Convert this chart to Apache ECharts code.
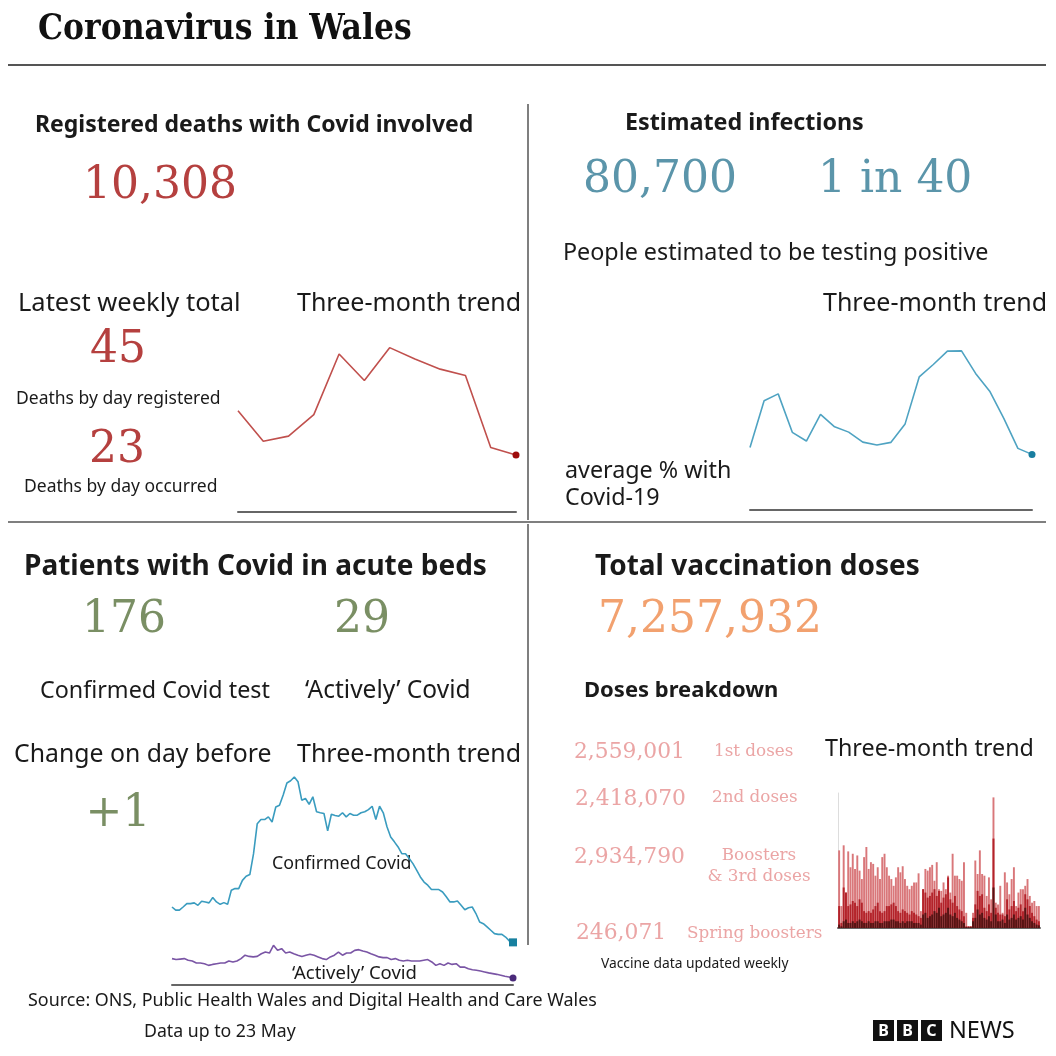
<!DOCTYPE html>
<html>
<head>
<meta charset="utf-8">
<script src="https://cdn.jsdelivr.net/npm/echarts@6/dist/echarts.min.js"></script>
<style>html,body{margin:0;padding:0;background:#fff}#c{width:1056px;height:1056px}</style>
</head>
<body>
<div id="c"></div>
<script>
// ---- headline figures ----
const totalDeaths = '10,308';
const weeklyRegistered = '45';
const weeklyOccurred = '23';
const infectionsEstimate = '80,700';
const infectionsRatio = '1 in 40';
const patientsConfirmed = '176';
const patientsActive = '29';
const patientsChange = '+1';
const totalDoses = '7,257,932';
const doseLabels = ['1st doses', '2nd doses', 'Boosters\n& 3rd doses', 'Spring boosters'];
const doseValues = ['2,559,001', '2,418,070', '2,934,790', '246,071'];

// ---- trend series ----
const deathsTrend = [80, 56, 60, 77, 125, 104, 130, 121, 113, 108, 51, 45];
const infectionsTrend = [2.81, 4.91, 5.22, 3.49, 3.10, 4.30, 3.74, 3.50, 3.05, 2.92, 3.04, 3.87, 5.98, 6.54, 7.14, 7.15, 6.14, 5.34, 4.12, 2.77, 2.50];
const confirmedTrend = [322,309,309,322,336,336,339,329,346,343,339,361,343,333,340,333,391,398,398,432,449,456,542,666,683,683,694,673,735,742,784,834,843,859,839,763,770,746,777,715,711,708,636,705,700,697,711,694,708,701,701,711,715,724,738,683,738,711,653,611,591,570,542,542,522,501,474,446,425,412,394,394,394,384,364,343,343,347,329,311,319,322,295,260,253,240,226,212,209,209,198,182,176];
const activeTrend = [109,105,107,109,102,99,91,91,88,81,85,88,91,91,99,95,99,109,123,118,116,118,129,136,132,164,143,150,132,136,129,123,118,123,127,123,116,109,105,116,123,136,123,132,132,143,146,140,136,129,123,116,113,113,105,109,102,99,102,99,99,99,102,105,95,81,88,81,91,85,88,74,74,67,63,61,58,54,50,47,44,40,36,33,29];
// daily vaccine doses (relative units)
const dosesAll = [230,65,245,105,227,180,220,175,215,170,145,210,240,175,195,190,155,180,145,210,220,180,155,145,125,150,180,165,183,145,125,115,125,135,135,162,50,115,175,170,180,187,140,195,115,110,135,115,155,105,220,155,155,145,140,195,45,5,5,45,200,160,230,160,155,95,150,85,387,75,70,125,45,165,135,100,145,180,65,105,115,115,125,145,95,75,80,65,65];
const dosesMid = [65,15,120,105,65,70,80,75,65,85,75,50,45,50,45,55,65,75,50,45,50,65,65,70,75,65,50,45,55,50,45,40,50,45,40,35,30,115,105,90,95,105,115,95,110,75,90,100,150,85,75,95,65,55,50,35,5,5,5,30,70,110,95,100,60,50,70,45,265,60,45,40,40,35,85,55,65,80,50,60,70,50,100,85,65,45,35,25,20];
const dosesDark = [10,5,20,25,15,15,20,15,20,25,20,15,15,20,15,15,20,20,15,15,20,20,20,25,25,20,20,15,20,15,20,20,20,15,15,15,10,40,45,30,35,40,50,45,60,35,40,45,60,40,35,45,30,25,20,15,3,3,3,20,30,55,40,45,30,25,35,20,120,40,20,20,25,15,40,25,30,40,25,30,35,25,60,40,30,20,15,10,8];

const SANS = '"Noto Sans", "Open Sans", sans-serif';
const SERIF = '"DejaVu Serif", serif';
const INK = '#1a1a1a';
const RED = '#b5403f', TEAL = '#5b95aa', GREEN = '#7a8f64', ORANGE = '#f2a16f', PINK = '#eba5a5';

function T(x, y, text, size, opt) {
  opt = opt || {};
  return {
    type: 'text', x: x, y: y, silent: true,
    style: {
      text: text, fill: opt.color || INK,
      fontSize: size, fontFamily: opt.family || SANS, fontWeight: opt.weight || 'normal',
      align: opt.align || 'left', verticalAlign: 'middle',
      textAlign: opt.align || 'left', textVerticalAlign: 'middle',
      lineHeight: opt.lineHeight || size * 1.2
    }
  };
}
function L(x1, y1, x2, y2, color, w) {
  return { type: 'line', silent: true, shape: { x1: x1, y1: y1, x2: x2, y2: y2 }, style: { stroke: color, lineWidth: w } };
}

const graphics = [
  T(38, 30, 'Coronavirus in Wales', 35, { family: '"DejaVu Serif Condensed", "DejaVu Serif", serif', weight: 'bold', color: '#111' }),
  L(8, 65, 1046, 65, '#555', 2),
  L(8, 522, 1046, 522, '#555', 1.5),
  L(528, 104, 528, 520, '#555', 1.5),
  L(528, 524, 528, 945, '#555', 1.5),
  // top-left
  T(35, 125, 'Registered deaths with Covid involved', 23, { weight: 'bold' }),
  T(83, 187, totalDeaths, 44, { family: SERIF, color: RED }),
  T(18, 304, 'Latest weekly total', 25.5),
  T(297, 304, 'Three-month trend', 25),
  T(90, 351, weeklyRegistered, 44, { family: SERIF, color: RED }),
  T(16, 399, 'Deaths by day registered', 17.5),
  T(89, 451, weeklyOccurred, 44, { family: SERIF, color: RED }),
  T(24, 487, 'Deaths by day occurred', 17.5),
  // top-right
  T(625, 123, 'Estimated infections', 23.3, { weight: 'bold' }),
  T(583, 181, infectionsEstimate, 44, { family: SERIF, color: TEAL }),
  T(818, 181, infectionsRatio, 44, { family: SERIF, color: TEAL }),
  T(563, 253, 'People estimated to be testing positive', 23.3),
  T(823, 304, 'Three-month trend', 25),
  T(565, 471, 'average % with', 23.3),
  T(565, 498, 'Covid-19', 23.3),
  // bottom-left
  T(24, 567, 'Patients with Covid in acute beds', 28, { weight: 'bold' }),
  T(82, 621, patientsConfirmed, 44, { family: SERIF, color: GREEN }),
  T(334, 621, patientsActive, 44, { family: SERIF, color: GREEN }),
  T(40, 691, 'Confirmed Covid test', 23.3),
  T(305, 691, '\u2018Actively\u2019 Covid', 24.5),
  T(14, 755, 'Change on day before', 24.8),
  T(297, 755, 'Three-month trend', 25),
  T(118, 815, patientsChange, 44, { family: SERIF, color: GREEN, align: 'center' }),
  T(272, 864, 'Confirmed Covid', 17.8),
  T(292, 974, '\u2018Actively\u2019 Covid', 18.5),
  // bottom-right
  T(595, 567, 'Total vaccination doses', 28, { weight: 'bold' }),
  T(598, 621, totalDoses, 44, { family: SERIF, color: ORANGE }),
  T(584, 691, 'Doses breakdown', 22, { weight: 'bold' }),
  T(825, 749, 'Three-month trend', 23.3),
  T(574, 752, doseValues[0], 21.8, { family: SERIF, color: PINK }),
  T(714, 752, doseLabels[0], 16.8, { family: SERIF, color: PINK }),
  T(575, 799, doseValues[1], 21.8, { family: SERIF, color: PINK }),
  T(712, 798, doseLabels[1], 16.8, { family: SERIF, color: PINK }),
  T(574, 857, doseValues[2], 21.8, { family: SERIF, color: PINK }),
  T(759, 866, doseLabels[2], 16.8, { family: SERIF, color: PINK, align: 'center', lineHeight: 21 }),
  T(576, 933, doseValues[3], 21.8, { family: SERIF, color: PINK }),
  T(687, 934, doseLabels[3], 16.8, { family: SERIF, color: PINK }),
  T(601, 964, 'Vaccine data updated weekly', 13.8),
  // footer
  T(28, 1001, 'Source: ONS, Public Health Wales and Digital Health and Care Wales', 17.9),
  T(144, 1032, 'Data up to 23 May', 17.7),
];
// BBC NEWS logo
['B', 'B', 'C'].forEach(function (ch, i) {
  const bx = 873 + i * 24;
  graphics.push({ type: 'rect', silent: true, shape: { x: bx, y: 1020, width: 21, height: 21 }, style: { fill: '#111' } });
  graphics.push(T(bx + 10.5, 1031, ch, 16, { weight: 'bold', color: '#fff', align: 'center' }));
});
graphics.push(T(949, 1031, 'NEWS', 23.5, { color: '#111' }));

const hiddenY = function (max, gi) {
  return { type: 'value', gridIndex: gi, min: 0, max: max, show: false, splitLine: { show: false } };
};
const catX = function (n, gi, showLine) {
  return {
    type: 'category', gridIndex: gi, boundaryGap: false,
    data: Array.from({ length: n }, function (_, i) { return i + 1; }),
    axisLine: { show: showLine, lineStyle: { color: '#666', width: 2 } },
    axisTick: { show: false }, axisLabel: { show: false }, splitLine: { show: false }
  };
};
const endSymbol = function (arr, shape) {
  return function (v, p) { return p.dataIndex === arr.length - 1 ? shape : 'none'; };
};

const option = {
  animation: false,
  backgroundColor: '#fff',
  graphic: { elements: graphics },
  grid: [
    { left: 238, top: 335, width: 278, height: 177 },   // deaths
    { left: 750, top: 332, width: 282, height: 178 },   // infections
    { left: 172, top: 767, width: 341, height: 218 },   // patients
    { left: 838, top: 793, width: 202, height: 135 }    // vaccines
  ],
  xAxis: [
    catX(deathsTrend.length, 0, true),
    catX(infectionsTrend.length, 1, true),
    catX(confirmedTrend.length, 2, true),
    catX(activeTrend.length, 2, false),
    {
      type: 'category', gridIndex: 3, boundaryGap: true,
      data: dosesAll.map(function (_, i) { return i + 1; }),
      axisLine: { show: true, lineStyle: { color: '#666', width: 2 } },
      axisTick: { show: false }, axisLabel: { show: false }
    }
  ],
  yAxis: [
    hiddenY(140, 0),
    hiddenY(8, 1),
    hiddenY(900, 2),
    hiddenY(900, 2),
    { type: 'value', gridIndex: 3, min: 0, max: 400, show: true,
      axisLine: { show: true, lineStyle: { color: '#ddd', width: 1 } },
      axisTick: { show: false }, axisLabel: { show: false }, splitLine: { show: false } }
  ],
  series: [
    { type: 'line', name: 'Deaths', xAxisIndex: 0, yAxisIndex: 0, data: deathsTrend,
      showAllSymbol: true, symbol: endSymbol(deathsTrend, 'circle'), symbolSize: 7,
      lineStyle: { color: '#c0504d', width: 1.6 }, itemStyle: { color: '#9e0b0b' } },
    { type: 'line', name: 'Infections', xAxisIndex: 1, yAxisIndex: 1, data: infectionsTrend,
      showAllSymbol: true, symbol: endSymbol(infectionsTrend, 'circle'), symbolSize: 7,
      lineStyle: { color: '#4fa3c2', width: 1.6 }, itemStyle: { color: '#187ea0' } },
    { type: 'line', name: 'Confirmed Covid', xAxisIndex: 2, yAxisIndex: 2, data: confirmedTrend,
      showAllSymbol: true, symbol: endSymbol(confirmedTrend, 'rect'), symbolSize: 8,
      lineStyle: { color: '#3a9cbf', width: 1.6 }, itemStyle: { color: '#17809f' } },
    { type: 'line', name: 'Actively Covid', xAxisIndex: 3, yAxisIndex: 3, data: activeTrend,
      showAllSymbol: true, symbol: endSymbol(activeTrend, 'circle'), symbolSize: 7,
      lineStyle: { color: '#7a55a5', width: 1.6 }, itemStyle: { color: '#4a2a7a' } },
    { type: 'bar', name: 'All doses', xAxisIndex: 4, yAxisIndex: 4, data: dosesAll,
      barWidth: '85%', barGap: '-100%', itemStyle: { color: '#d9777a' } },
    { type: 'bar', name: 'Doses mid', xAxisIndex: 4, yAxisIndex: 4, data: dosesMid,
      barWidth: '85%', barGap: '-100%', itemStyle: { color: '#b3232a' } },
    { type: 'bar', name: 'Doses dark', xAxisIndex: 4, yAxisIndex: 4, data: dosesDark,
      barWidth: '85%', barGap: '-100%', itemStyle: { color: '#561414' } }
  ]
};
const chart = echarts.init(document.getElementById('c'), null, { renderer: 'canvas' });
chart.setOption(option);
</script>
</body>
</html>
